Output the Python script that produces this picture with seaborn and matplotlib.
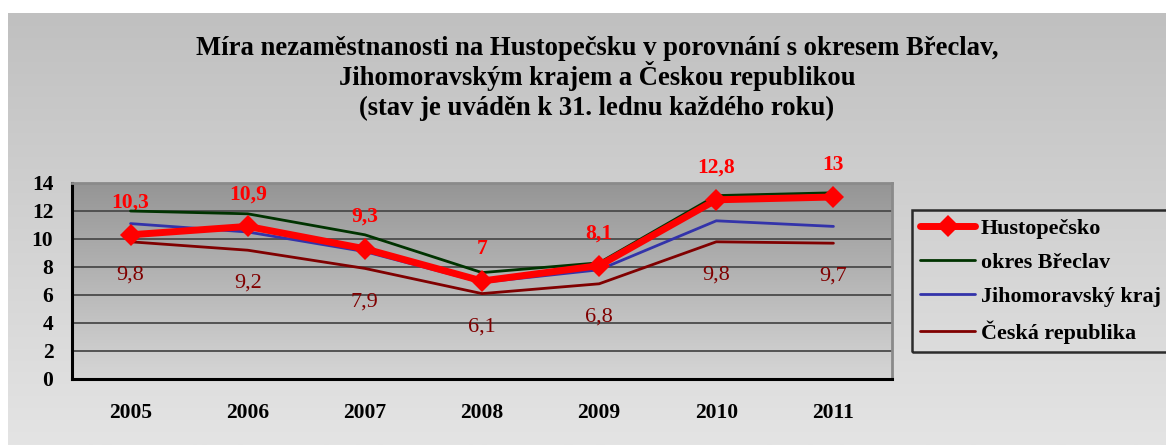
import numpy as np
import pandas as pd
import seaborn as sns
import matplotlib.pyplot as plt
from matplotlib.colors import LinearSegmentedColormap
from matplotlib.ticker import FixedLocator

# Data (unemployment rate, state as of 31 January)
years = [2005, 2006, 2007, 2008, 2009, 2010, 2011]
hustopecsko = [10.3, 10.9, 9.3, 7.0, 8.1, 12.8, 13.0]
breclav = [12.0, 11.8, 10.3, 7.6, 8.3, 13.1, 13.3]
jmk = [11.1, 10.5, 9.1, 6.9, 7.8, 11.3, 10.9]
cr = [9.8, 9.2, 7.9, 6.1, 6.8, 9.8, 9.7]

series_names = ['Hustopečsko', 'okres Břeclav', 'Jihomoravský kraj', 'Česká republika']
series_values = [hustopecsko, breclav, jmk, cr]
palette = {'Hustopečsko': '#ff0000', 'okres Břeclav': '#003300',
           'Jihomoravský kraj': '#3333aa', 'Česká republika': '#800000'}

title_lines = ['Míra nezaměstnanosti na Hustopečsku v porovnání s okresem Břeclav,',
               'Jihomoravským krajem a Českou republikou',
               '(stav je uváděn k 31. lednu každého roku)']

data = pd.DataFrame({
    'Rok': years * len(series_names),
    'Míra': sum(series_values, []),
    'Oblast': [n for n in series_names for _ in years],
})

sns.set_style('white')
plt.rcParams['font.family'] = ['Liberation Serif', 'DejaVu Serif']
plt.rcParams['text.color'] = 'black'
plt.rcParams['xtick.color'] = 'black'
plt.rcParams['ytick.color'] = 'black'

fig = plt.figure(figsize=(11.66, 4.45), dpi=100)

# Outer chart background (light gray gradient), white strip on top/left
grad = np.linspace(0, 1, 256).reshape(-1, 1)
bg = fig.add_axes([8 / 1166, 0, 1 - 8 / 1166, 1 - 13 / 445], zorder=-10)
bg.imshow(grad, aspect='auto', extent=[0, 1, 0, 1], origin='upper',
          cmap=LinearSegmentedColormap.from_list('bg', ['#c0c0c0', '#e4e4e4']))
bg.axis('off')

# Plot area
ax = fig.add_axes([72 / 1166, 1 - 379 / 445, (892 - 72) / 1166, (379 - 183) / 445])
ax.imshow(grad, aspect='auto', extent=[2004.5, 2011.5, 0, 14], origin='upper', zorder=0,
          cmap=LinearSegmentedColormap.from_list('pa', ['#959595', '#d6d6d6']))

for name in series_names[::-1]:
    sub = data[data['Oblast'] == name]
    if name == 'Hustopečsko':
        sns.lineplot(data=sub, x='Rok', y='Míra', ax=ax, color=palette[name], linewidth=5,
                     marker='D', markersize=11, markeredgewidth=0, label=name, zorder=5)
    else:
        sns.lineplot(data=sub, x='Rok', y='Míra', ax=ax, color=palette[name], linewidth=2,
                     label=name, zorder=4)

# Data labels
for x, v in zip(years, hustopecsko):
    txt = f'{v:g}'.replace('.', ',')
    ax.annotate(txt, (x, v), xytext=(0, 23), textcoords='offset points', ha='center',
                va='center', color='#ff0000', fontsize=15.5, fontweight='bold',
                annotation_clip=False)
for x, v in zip(years, cr):
    txt = f'{v:g}'.replace('.', ',')
    ax.annotate(txt, (x, v), xytext=(0, -24), textcoords='offset points', ha='center',
                va='center', color='#800000', fontsize=16)

ax.set_xlim(2004.5, 2011.5)
ax.set_ylim(0, 14)
ax.set_yticks(range(0, 15, 2))
ax.yaxis.grid(True, color='#4a4a4a', linewidth=1.3)
for l in ax.get_ygridlines():
    l.set_zorder(1)

ax.set_xticks(years)
ax.set_xticklabels([str(y) for y in years], fontsize=15.5, fontweight='bold')
ax.xaxis.set_minor_locator(FixedLocator(np.arange(2004.5, 2012, 1)))
ax.tick_params(axis='x', which='major', length=0, pad=17)
ax.tick_params(axis='x', which='minor', length=7, width=2, direction='out')
ax.tick_params(axis='y', length=6.5, width=2, direction='out', labelsize=15.5, pad=7)
for lab in ax.get_yticklabels():
    lab.set_fontweight('bold')

ax.set_xlabel('')
ax.set_ylabel('')
ax.spines['left'].set_color('black')
ax.spines['left'].set_linewidth(2.2)
ax.spines['bottom'].set_color('black')
ax.spines['bottom'].set_linewidth(2.2)
ax.spines['top'].set_color('#8a8a8a')
ax.spines['top'].set_linewidth(2)
ax.spines['right'].set_color('#8a8a8a')
ax.spines['right'].set_linewidth(2)

# Legend in the original order
handles, labels = ax.get_legend_handles_labels()
order = [labels.index(n) for n in series_names]
leg = ax.legend([handles[i] for i in order], series_names, loc='upper left',
                bbox_to_anchor=(912 / 1166, 1 - 210 / 445), bbox_transform=fig.transFigure,
                frameon=True, fancybox=False, edgecolor='black', facecolor='none',
                prop={'size': 15.8, 'weight': 'bold'}, handlelength=2.5, handletextpad=0.25,
                labelspacing=0.62, borderpad=0.38, borderaxespad=0)
leg.get_frame().set_linewidth(1.8)

# Title, one line at a time
for i, line in enumerate(title_lines):
    fig.text(0.512, 1 - (55 + 30 * i) / 445, line, ha='center', va='baseline',
             fontsize=19.2, fontweight='bold')

fig.savefig('out.png', dpi=100)
